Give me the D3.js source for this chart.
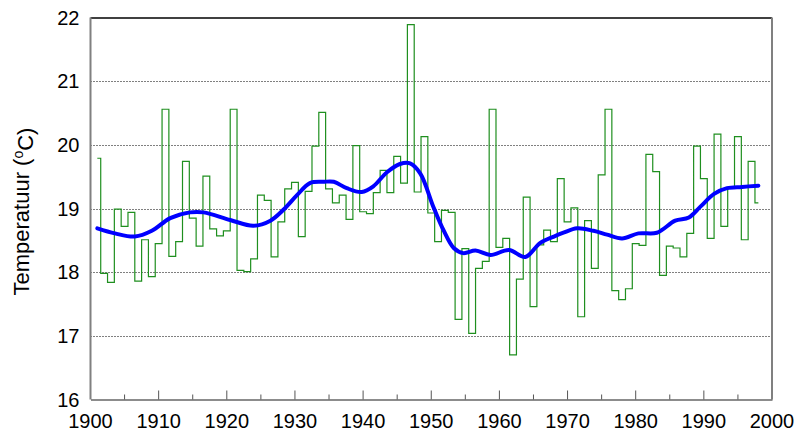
<!DOCTYPE html>
<html>
<head>
<meta charset="utf-8">
<script src="https://cdn.jsdelivr.net/npm/d3@7"></script>
<style>
  body { margin: 0; background: #fff; }
  text { font-family: "Liberation Sans", Arial, sans-serif; fill: #000; }
</style>
</head>
<body>
<div id="vis"></div>
<script>
// yearly temperature (step line)
var years = d3.range(1901, 1999);
var temps = [
    19.79, 17.98, 17.84, 18.99, 18.72, 18.94, 17.86, 18.51, 17.93, 18.45,
    20.56, 18.25, 18.48, 19.74, 18.85, 18.41, 19.51, 18.68, 18.57, 18.65,
    20.56, 18.03, 18.01, 18.21, 19.21, 19.13, 18.24, 18.79, 19.31, 19.41,
    18.56, 19.27, 19.98, 20.51, 19.31, 19.09, 19.21, 18.83, 19.99, 18.95,
    18.92, 19.25, 19.60, 19.25, 19.82, 19.40, 21.89, 19.26, 20.13, 18.93,
    18.48, 18.97, 18.94, 17.26, 18.37, 17.04, 18.06, 18.17, 20.56, 18.39,
    18.53, 16.70, 17.89, 19.18, 17.46, 18.43, 18.66, 18.48, 19.47, 18.79,
    19.01, 17.30, 18.81, 18.06, 19.53, 20.56, 17.71, 17.57, 17.74, 18.45,
    18.42, 19.85, 19.58, 17.95, 18.41, 18.38, 18.24, 18.61, 19.98, 19.47,
    18.53, 20.17, 18.72, 19.33, 20.13, 18.51, 19.74, 19.09
];

// smoothed trend (blue)
var smoothYears = [1901, 1903.6, 1906.5, 1909, 1911.7, 1914.6, 1916.6, 1920.5, 1923.9, 1926.4,
    1928.3, 1930.3, 1932.2, 1934.2, 1935.7, 1937.6, 1939.8, 1941.5, 1943.5, 1945.4,
    1946.9, 1948.4, 1950.3, 1951.8, 1953.3, 1954.7, 1956.5, 1958.7, 1961.4, 1963.8,
    1966.0, 1968.0, 1969.4, 1971.4, 1973.8, 1975.8, 1978.0, 1980.4, 1983.1, 1985.8,
    1987.8, 1989.5, 1991.5, 1993.4, 1995.6, 1998];
var smoothTemps = [18.69, 18.61, 18.56, 18.65, 18.85, 18.94, 18.94, 18.82, 18.73, 18.81,
    18.98, 19.21, 19.40, 19.42, 19.42, 19.32, 19.26, 19.35, 19.57, 19.70,
    19.71, 19.55, 19.03, 18.66, 18.38, 18.30, 18.34, 18.27, 18.35, 18.24,
    18.46, 18.56, 18.62, 18.69, 18.65, 18.59, 18.53, 18.61, 18.62, 18.81,
    18.86, 19.03, 19.23, 19.32, 19.34, 19.36];

var xTicks = d3.range(1900, 2001, 10);
var yTicks = d3.range(16, 23, 1);
var yLabel = "Temperatuur (";

var width = 795, height = 432;
var plotLeft = 90.5, plotRight = 772, plotTop = 17.6, plotBottom = 399.5;

var svg = d3.select("#vis").append("svg")
    .attr("width", width)
    .attr("height", height);

var x = d3.scaleLinear().domain([1900, 2000]).range([plotLeft, plotRight]);
var y = d3.scaleLinear().domain([16, 22]).range([plotBottom, plotTop]);

// dotted grid lines
svg.append("g")
    .selectAll("line")
    .data(yTicks.filter(d => d > 16 && d < 22))
    .enter().append("line")
    .attr("x1", plotLeft).attr("x2", plotRight)
    .attr("y1", d => Math.round(y(d)) + 0.5).attr("y2", d => Math.round(y(d)) + 0.5)
    .attr("stroke", "#000")
    .attr("stroke-width", 1)
    .attr("stroke-dasharray", "1,2");

// frame
svg.append("line").attr("x1", plotLeft).attr("x2", plotRight).attr("y1", 18).attr("y2", 18)
    .attr("stroke", "#000").attr("stroke-width", 1.5);
svg.append("line").attr("x1", plotLeft).attr("x2", plotLeft).attr("y1", 17.5).attr("y2", plotBottom)
    .attr("stroke", "#808080").attr("stroke-width", 2);
svg.append("line").attr("x1", plotRight).attr("x2", plotRight).attr("y1", 17.5).attr("y2", plotBottom)
    .attr("stroke", "#808080").attr("stroke-width", 2);

// x axis, ticks pointing up
var xAxis = d3.axisBottom(x)
    .tickValues([])
    .tickSize(0);
svg.append("g").attr("transform", "translate(0," + plotBottom + ")").call(xAxis)
    .select(".domain").attr("stroke", "#666").attr("stroke-width", 1.5);

svg.append("g")
    .selectAll("line")
    .data(d3.range(1905, 2000, 5))
    .enter().append("line")
    .attr("x1", d => x(d)).attr("x2", d => x(d))
    .attr("y1", plotBottom).attr("y2", d => d % 10 === 0 ? plotBottom - 9 : plotBottom - 5)
    .attr("stroke", "#555").attr("stroke-width", 1);

svg.append("g")
    .selectAll("text")
    .data(xTicks)
    .enter().append("text")
    .attr("x", d => x(d))
    .attr("y", 428)
    .attr("text-anchor", "middle")
    .style("font-size", "20px")
    .text(d => d);

svg.append("g")
    .selectAll("text")
    .data(yTicks)
    .enter().append("text")
    .attr("x", 79.5)
    .attr("y", d => y(d))
    .attr("dy", "0.36em")
    .attr("text-anchor", "end")
    .style("font-size", "20px")
    .text(d => d);

// y label
var lab = svg.append("text")
    .attr("transform", "translate(29," + ((plotTop + plotBottom) / 2 + 3) + ") rotate(-90)")
    .attr("text-anchor", "middle")
    .style("font-size", "22px");
lab.append("tspan").text(yLabel);
lab.append("tspan").attr("dy", "-0.45em").style("font-size", "14px").text("o");
lab.append("tspan").attr("dy", "0.45em").text("C)");

// yearly step line
var pts = years.map((d, i) => [d, temps[i]]);
svg.append("path")
    .datum(pts)
    .attr("fill", "none")
    .attr("stroke", "#1f8f1f")
    .attr("stroke-width", 1.2)
    .attr("d", d3.line().x(d => x(d[0])).y(d => y(d[1])).curve(d3.curveStep));

// smoothed line
var spts = smoothYears.map((d, i) => [d, smoothTemps[i]]);
svg.append("path")
    .datum(spts)
    .attr("fill", "none")
    .attr("stroke", "#0000ff")
    .attr("stroke-width", 4)
    .attr("stroke-linecap", "round")
    .attr("d", d3.line().x(d => x(d[0])).y(d => y(d[1])).curve(d3.curveCatmullRom));
</script>
</body>
</html>
